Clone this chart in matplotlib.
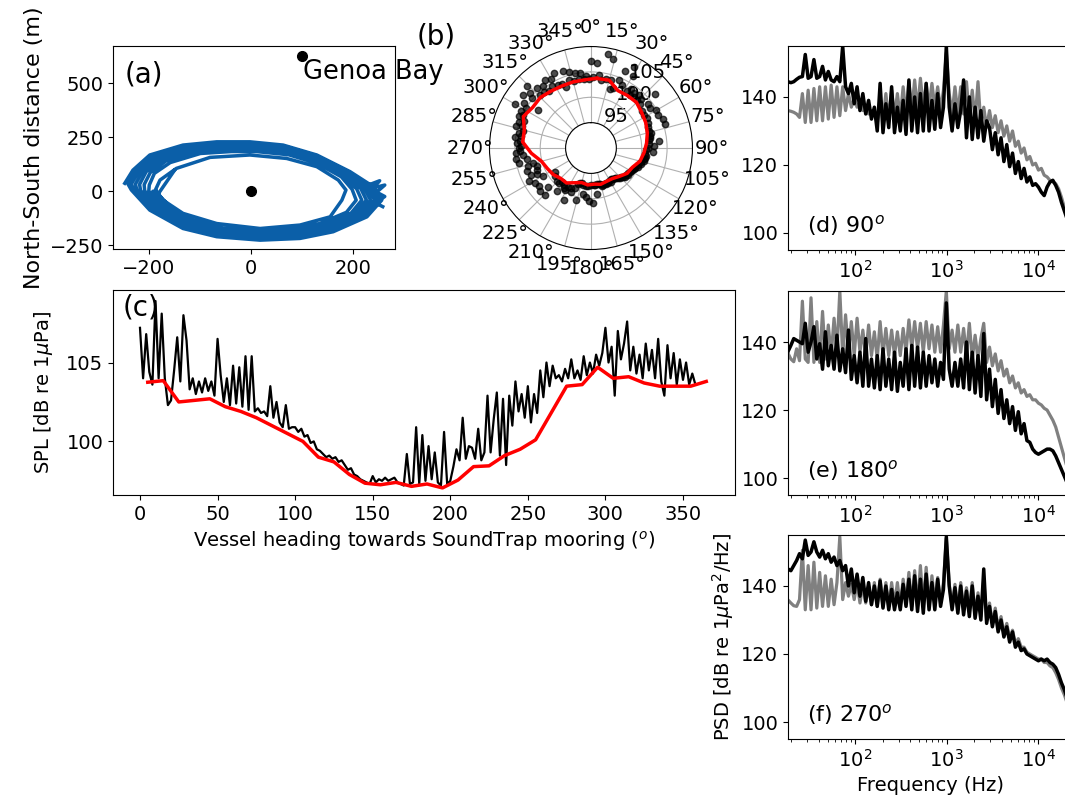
import numpy as np
import matplotlib.pyplot as plt

plt.rcParams['font.size'] = 14

# vessel track around the mooring (m), loops joined, nan breaks the line
track_x = [-247, -231, -198, -133, -67, -2, 63, 129, 194, 240, 256, 227, 161, 96, 18, -67, -133, -198, -234,
           -241, -225, -192, -128, -62, 2, 66, 130, 192, 234, 249, 222, 158, 94, 17, -65, -130, -194, -229,
           -234, -219, -186, -123, -58, 4, 68, 131, 189, 228, 242, 216, 154, 91, 16, -63, -127, -189, -223,
           -226, -212, -180, -118, -54, 6, 70, 131, 186, 222, 234, 210, 150, 88, 15, -61, -124, -184, -216,
           -218, -205, -173, -112, -49, 8, 72, 131, 183, 215, 226, 203, 146, 85, 14, -59, -120, -178, -208,
           -209, -197, -166, -106, -44, 9, 73, 130, 180, 207, 217, 196, 141, 82, 13, -57, -116, -172, -200,
           -199, -189, -158, -99, -38, 10, 74, 130, 177, 198, 206, 187, 135, 78, 12, -55, -112, -166, -192,
           -188, -178, -146, -80, -2, 70, 129, 171, 186, 178, 155, 96, 18, -67, -133, -172, -185,
           np.nan, -150, -182, -135,
           np.nan, 232, 252, 240, 262, 246, 262, 244, 258]
track_y = [36, 97, 167, 213, 228, 228, 213, 167, 90, 20, -42, -119, -188, -219, -227, -211, -173, -88, 5,
           34, 96, 163, 208, 222, 222, 207, 162, 87, 18, -42, -116, -183, -213, -222, -206, -168, -86, 4,
           33, 94, 158, 202, 215, 215, 200, 156, 84, 16, -42, -113, -177, -206, -215, -199, -162, -83, 3,
           32, 92, 153, 196, 208, 208, 193, 150, 80, 14, -42, -110, -171, -199, -208, -193, -156, -80, 2,
           31, 90, 147, 189, 200, 200, 185, 143, 76, 12, -42, -106, -165, -192, -200, -186, -150, -76, 1,
           30, 86, 140, 182, 192, 192, 177, 136, 71, 10, -42, -102, -158, -184, -192, -178, -143, -72, 0,
           28, 82, 132, 174, 183, 183, 168, 128, 66, 8, -42, -98, -150, -175, -183, -170, -135, -67, -1,
           0, 51, 105, 156, 167, 151, 113, 51, 5, -42, -119, -157, -173, -150, -103, -42, 0,
           np.nan, 95, -15, -125,
           np.nan, 30, 48, 15, 28, -5, -25, -55, -72]
genoa_x = 100
genoa_y = 625

# SPL against vessel heading, every 2 degrees
heading = np.arange(0, 360, 2)
spl = [107.2, 104.0, 106.8, 104.4, 103.6, 108.9, 104.0, 108.1, 104.0, 102.3,
       102.6, 104.5, 106.6, 103.8, 108.0, 106.4, 103.3, 104.0, 103.0, 103.8,
       103.1, 104.0, 103.2, 103.8, 102.9, 106.5, 104.2, 102.5, 104.0, 102.3,
       104.8, 102.4, 104.7, 102.2, 105.4, 102.0, 105.4, 101.9, 102.1, 101.8,
       101.9, 101.6, 103.5, 101.5, 102.5, 101.2, 100.9, 102.3, 100.8, 100.9,
       100.9, 100.6, 100.8, 100.3, 100.4, 99.9, 100.0, 99.5, 99.4, 99.2,
       99.0, 99.1, 98.9, 99.0, 98.7, 98.8, 98.5, 98.2, 98.3, 97.9,
       97.8, 97.6, 97.5, 97.4, 97.3, 97.8, 97.4, 97.6, 97.5, 97.7,
       97.5, 97.6, 97.7, 97.4, 97.3, 97.2, 99.2, 97.3, 97.4, 100.9,
       97.3, 100.4, 97.5, 99.7, 97.6, 99.3, 97.4, 97.2, 100.6, 97.3,
       97.5, 98.4, 99.5, 98.8, 101.5, 98.9, 99.7, 99.6, 98.9, 100.8,
       98.8, 99.3, 102.9, 99.3, 101.4, 103.1, 99.1, 102.7, 98.5, 102.9,
       101.0, 103.8, 101.9, 103.0, 101.5, 103.5, 101.2, 103.0, 101.8, 104.5,
       102.8, 105.0, 103.5, 104.8, 104.0, 104.2, 103.8, 104.6, 104.0, 105.2,
       104.0, 104.5, 103.9, 105.4, 104.2, 105.0, 104.3, 105.5, 104.8, 105.6,
       107.2, 105.0, 106.0, 102.9, 107.0, 105.2, 106.2, 107.6, 104.5, 106.0,
       104.3, 105.5, 104.0, 106.2, 104.5, 105.8, 104.0, 106.5, 103.8, 102.9,
       106.1, 104.0, 105.6, 103.6, 105.2, 103.9, 105.0, 103.6, 104.3, 103.6]

# 10 degree bin average
bin_heading = np.arange(5, 366, 10)
bin_spl = [103.75, 103.85, 102.5, 102.6, 102.7, 102.2, 101.9, 101.5, 101.0, 100.5,
           100.0, 99.0, 98.7, 97.9, 97.35, 97.25, 97.4, 97.15, 97.3, 97.05,
           97.55, 98.4, 98.45, 99.1, 99.5, 100.1, 101.8, 103.5, 103.6, 104.7,
           104.0, 104.1, 103.7, 103.5, 103.5, 103.5, 103.8]

# PSD (dB re 1uPa^2/Hz) on a log frequency grid
freq = np.geomspace(18.5, 24000, 100)
psd_90_ref = [136, 135.8, 135.5, 135, 134, 141, 132.5, 142, 132.5, 142.5,
              133, 143, 133, 143, 133.5, 143.5, 134, 143, 134.5, 143,
              136, 141, 137, 139.5, 137, 138.5, 136, 137, 135, 136,
              136, 132, 140, 133, 141, 133, 142, 134, 141, 134,
              143, 135, 144.5, 136, 145, 136, 145.5, 137, 144, 137,
              144, 137, 143, 136, 142, 153, 141, 135, 143, 135,
              143, 135, 144.5, 134, 142, 133, 144.5, 132, 137, 131,
              136, 131, 134.5, 129.5, 133, 128.5, 131.5, 127, 130, 125.5,
              127, 123.5, 125, 121.5, 122.5, 120, 120.5, 118.5, 119, 117,
              116.5, 115.5, 115, 114.5, 113, 110.5, 107.5, 104.5, 101, 98]
psd_90 = [144.5, 144.2, 144.5, 145.2, 145.8, 146, 152.5, 145.5, 146, 151,
          145.5, 146, 149, 145, 147.5, 145, 144.5, 146, 144.5, 155,
          143, 141, 144, 138, 143, 136, 141, 135, 139, 133.5,
          137, 130, 144, 129.5, 138, 131, 143, 129.5, 137, 130,
          139, 129, 145, 130, 140, 129.5, 141, 130, 144, 130,
          139, 130.5, 141, 131, 137, 155, 137, 130, 138, 131,
          136, 145, 128, 140, 127.5, 137, 128, 136, 127, 133,
          131, 124.5, 129.5, 123, 128, 121, 126, 119.5, 123.5, 117.5,
          121, 116, 119, 115, 116.5, 114, 114.5, 113.5, 112, 111,
          113.5, 115, 115.5, 114, 112, 109, 106.5, 104, 101, 98]
psd_180_ref = [136.7, 135, 134.2, 138, 134.5, 152, 135, 134, 153, 134,
               146, 134, 149, 135, 145, 136, 147, 137, 155, 136,
               148, 137, 146, 136, 147, 137, 143.5, 136, 145, 136,
               143, 135, 146, 136, 144, 136, 143.5, 136, 143, 136,
               144, 137, 146.5, 138, 146, 138, 145.5, 137, 146, 138,
               145, 137, 144.5, 137, 145, 155, 138, 143.5, 137, 145,
               137, 144, 136, 145.5, 135, 142, 135, 141, 145.5, 134,
               138.5, 133, 136.5, 131.5, 134.5, 130, 132, 128, 130, 126.5,
               128, 125, 126, 124, 124.5, 123, 123, 122, 121.5, 120.5,
               120, 118.5, 117, 115, 112, 109, 106, 103, 100.5, 98]
psd_180 = [137.2, 139, 141, 140.5, 140, 139.5, 145.5, 137, 140, 144.5,
           135, 139.5, 132, 143, 133, 139, 132, 142, 131.5, 138,
           131, 143.5, 129, 136, 128, 137, 127, 141, 127, 135,
           126.5, 136, 126, 138, 127, 135, 126, 137, 125.5, 134,
           127, 138, 126, 139, 127, 138.5, 126.5, 137, 127, 136,
           128, 135, 127, 134, 129, 151.5, 132, 127, 134, 127,
           135, 126.5, 140, 126, 137, 125, 136, 124, 142.5, 123,
           132, 121, 129, 119, 126, 117.5, 123, 116, 121, 114,
           119.5, 113, 116, 111, 110.5, 108.5, 107.5, 107, 107.5, 108,
           108.5, 108.5, 108, 106.5, 104.5, 102.5, 100.5, 98.5, 96.5, 95]
psd_270_ref = [135.9, 135, 134.2, 134, 136, 150.5, 133, 146, 133, 147,
               133.5, 144, 134, 143, 134, 142, 134.5, 141, 154.5, 136,
               141, 137, 140.5, 136, 141, 135, 140.5, 135, 140, 134.5,
               141, 134, 142, 134, 141, 134, 141, 134.5, 141, 134,
               142, 135, 144, 134, 144.5, 134, 146, 134, 145.5, 134,
               143, 135, 142.5, 135, 141, 154, 140.5, 134, 140.5, 133,
               141, 133, 139.5, 132.5, 141, 131.5, 138, 131, 142, 130,
               135, 129, 133.5, 127.5, 131, 126, 129, 124.5, 127, 123,
               124.5, 122, 122, 120.5, 120, 119.5, 119, 118.5, 118.5, 117.5,
               117.5, 116.5, 116, 114.5, 112.5, 110, 108, 105.5, 103, 100.5]
psd_270 = [145, 144.5, 146, 147.5, 149.5, 148, 153.5, 149, 150, 153,
           150, 148.5, 150.5, 148, 149.5, 147, 148.5, 146, 147.5, 144.5,
           146, 140, 145, 138, 143.5, 137, 142.5, 135.5, 141, 134.5,
           140, 134, 141.5, 133.5, 140, 133, 139, 133, 138, 133,
           140.5, 134, 142, 133, 143, 132.5, 142, 132, 143.5, 133,
           141, 133, 142, 134, 139, 154.5, 140, 133, 139.5, 132,
           140, 131.5, 138.5, 131, 140, 130.5, 137, 130, 145, 129,
           134, 128, 132.5, 126.5, 130, 125, 128, 123.5, 126.5, 122,
           123.5, 121, 121.5, 120, 119.5, 119, 118.5, 118, 118.5, 118,
           118.5, 117.5, 117, 116, 114, 111.5, 109.5, 107, 104.5, 102]

fig = plt.figure(figsize=(10.65, 8.01), dpi=100)

# (a) track
ax_a = fig.add_axes([0.1061, 0.6891, 0.2648, 0.2534])
ax_a.plot(track_x, track_y, color='#0b5fa8', lw=2.5)
ax_a.plot(0, 0, 'ko', ms=7)
ax_a.plot(genoa_x, genoa_y, 'ko', ms=7)
ax_a.text(genoa_x + 2, genoa_y - 12, 'Genoa Bay', fontsize=18.5, va='top', clip_on=False)
ax_a.set_xlim(-270, 282)
ax_a.set_ylim(-268, 671)
ax_a.set_xticks([-200, 0, 200])
ax_a.set_yticks([-250, 0, 250, 500])
ax_a.set_xlabel('East-West distance (m)', labelpad=9)
ax_a.set_ylabel('North-South distance (m)', fontsize=16)
ax_a.text(0.04, 0.93, '(a)', transform=ax_a.transAxes, fontsize=20, va='top')

# (b) polar view
ax_b = fig.add_axes([0.4596, 0.6885, 0.1906, 0.2534], projection='polar')
ax_b.scatter(np.deg2rad(heading), spl, s=21, color='k', alpha=0.7, zorder=2)
ax_b.plot(np.deg2rad(bin_heading), bin_spl, color='r', lw=2.5, zorder=3)
ax_b.set_theta_zero_location('N')
ax_b.set_theta_direction(-1)
ax_b.set_thetagrids(np.arange(0, 360, 15))
ax_b.set_rlim(95, 110)
ax_b.set_rorigin(90)
ax_b.set_rticks([95, 100, 105])
ax_b.set_rlabel_position(30)
fig.text(0.41, 0.955, '(b)', fontsize=20, ha='center', va='center')

# (c) SPL vs heading
ax_c = fig.add_axes([0.1061, 0.382, 0.584, 0.256])
ax_c.plot(heading, spl, color='k', lw=1.6)
ax_c.plot(bin_heading, bin_spl, color='r', lw=2.5)
ax_c.set_xlim(-17.4, 383.5)
ax_c.set_ylim(96.6, 109.6)
ax_c.set_xticks(range(0, 351, 50))
ax_c.set_yticks([100, 105])
ax_c.set_xlabel('Vessel heading towards SoundTrap mooring ($^o$)')
ax_c.set_ylabel('SPL [dB re 1$\\mu$Pa]', labelpad=8)
ax_c.text(0.016, 0.985, '(c)', transform=ax_c.transAxes, fontsize=20, va='top')

# (d)-(f) spectra
bottoms = [0.6879, 0.382, 0.0774]
refs = [psd_90_ref, psd_180_ref, psd_270_ref]
lines = [psd_90, psd_180, psd_270]
names = ['(d) 90$^o$', '(e) 180$^o$', '(f) 270$^o$']
for b, r, l, n in zip(bottoms, refs, lines, names):
    ax = fig.add_axes([0.7399, b, 0.2676, 0.2547])
    ax.plot(freq, r, color='gray', lw=2.3)
    ax.plot(freq, l, color='k', lw=2.5)
    ax.set_xscale('log')
    ax.set_xlim(18.5, 24000)
    ax.set_ylim(95, 155)
    ax.set_yticks([100, 120, 140])
    ax.text(0.067, 0.12, n, transform=ax.transAxes, fontsize=16, va='center')
ax.set_xlabel('Frequency (Hz)')
ax.set_ylabel('PSD [dB re 1$\\mu$Pa$^2$/Hz]')

fig.savefig('out.png', dpi=100)
